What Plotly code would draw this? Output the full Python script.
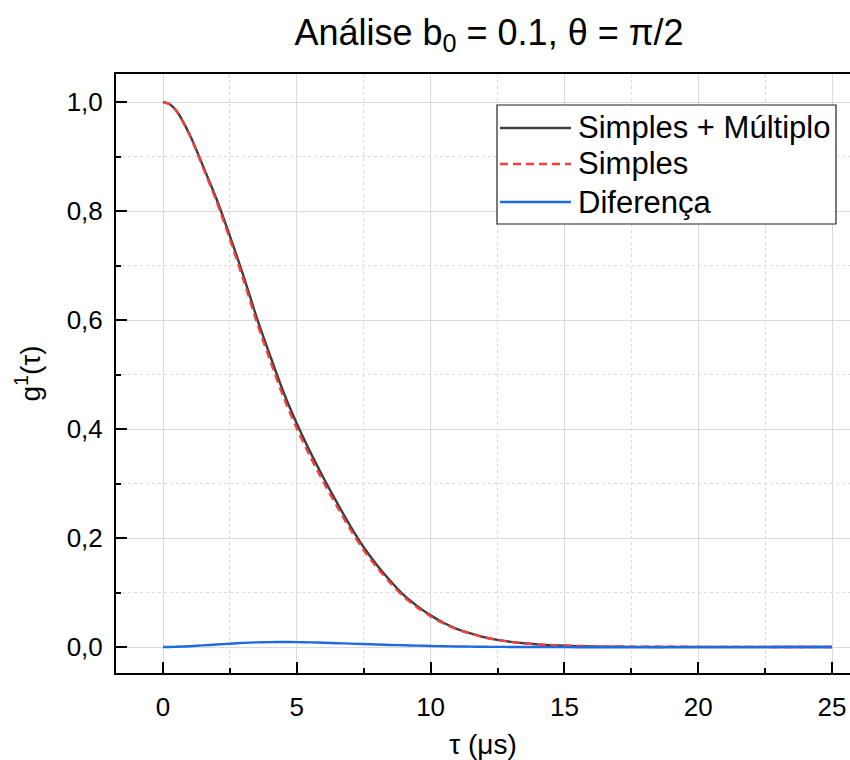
import plotly.graph_objects as go

# ---- data ----
tau = [0, 0.25, 0.5, 1.0, 1.5, 2.0, 2.5, 3.0, 3.5, 4.0, 4.5, 5.0, 5.5, 6.0, 6.5, 7.0, 7.5,
       8.0, 8.5, 9.0, 9.5, 10.0, 10.5, 11.0, 11.5, 12.0, 12.5, 13.0, 13.5, 14.0, 14.5,
       15.0, 16.0, 17.0, 18.0, 19.0, 20.0, 21.0, 22.0, 23.0, 24.0, 25.0]

simples_multiplo = [1.000, 0.996, 0.984, 0.940, 0.882, 0.822, 0.754, 0.682, 0.605, 0.535, 0.468,
                    0.410, 0.358, 0.310, 0.265, 0.222, 0.183, 0.150, 0.121, 0.095, 0.075,
                    0.058, 0.044, 0.033, 0.025, 0.018, 0.013, 0.0095, 0.0068, 0.0048, 0.0034,
                    0.0024, 0.0011, 0.0005, 0.0002, 0.0001, 0.0, 0.0, 0.0, 0.0, 0.0, 0.0]

simples = [1.000, 0.996, 0.9835, 0.9385, 0.879, 0.8175, 0.748, 0.6745, 0.5965, 0.526, 0.4588,
           0.401, 0.3495, 0.3022, 0.258, 0.2158, 0.1776, 0.1455, 0.1172, 0.0919, 0.0725,
           0.0561, 0.0426, 0.032, 0.0243, 0.0176, 0.0128, 0.0094, 0.0068, 0.0049, 0.0036,
           0.0027, 0.0015, 0.0009, 0.0006, 0.0004, 0.0003, 0.0002, 0.0002, 0.0001, 0.0001, 0.0001]

diferenca = [0.0, 0.0001, 0.0005, 0.0015, 0.003, 0.0045, 0.006, 0.0075, 0.0085, 0.009, 0.0092,
             0.009, 0.0085, 0.0078, 0.007, 0.0062, 0.0054, 0.0045, 0.0038, 0.0031, 0.0025,
             0.0019, 0.0014, 0.001, 0.0007, 0.0004, 0.0002, 0.0001, 0.0, -0.0001, -0.0002,
             -0.0003, -0.0004, -0.0004, -0.0004, -0.0003, -0.0003, -0.0002, -0.0002, -0.0001,
             -0.0001, -0.0001]

series_names = ["Simples + Múltiplo", "Simples", "Diferença"]
x_ticks = [0, 5, 10, 15, 20, 25]
y_ticks = [0.0, 0.2, 0.4, 0.6, 0.8, 1.0]

FONT = "Liberation Sans, Arial, sans-serif"
C_BLACK = "#3d3d3d"
C_RED = "#f43f3f"
C_BLUE = "#1f6ae0"
DASH = "8px,5px"

fig = go.Figure()
fig.add_trace(go.Scatter(x=tau, y=simples_multiplo, mode="lines", name=series_names[0],
                         line=dict(color=C_BLACK, width=2.4, shape="spline", smoothing=0.8), showlegend=False))
fig.add_trace(go.Scatter(x=tau, y=simples, mode="lines", name=series_names[1],
                         line=dict(color=C_RED, width=2.4, dash=DASH, shape="spline", smoothing=0.8), showlegend=False))
fig.add_trace(go.Scatter(x=tau, y=diferenca, mode="lines", name=series_names[2],
                         line=dict(color=C_BLUE, width=2.4, shape="spline", smoothing=0.8), showlegend=False))

# plot area geometry (pixels)
L, R, T, B = 116, 850, 74, 673
W, H = 850, 760
pw, ph = R - L, B - T

def px(xp):
    return (xp - L) / pw

def py(yp):
    return (B - yp) / ph

# manual legend (box + samples + labels)
fig.add_shape(type="rect", xref="paper", yref="paper", x0=px(497), x1=px(836), y0=py(224), y1=py(105),
              line=dict(color="#222222", width=1.2), fillcolor="white", layer="above")
entry_y = [128, 164, 202]
styles = [dict(color=C_BLACK, width=2.4), dict(color=C_RED, width=2.4, dash=DASH), dict(color=C_BLUE, width=2.4)]
for name, ey, st in zip(series_names, entry_y, styles):
    fig.add_shape(type="line", xref="paper", yref="paper", x0=px(500), x1=px(571), y0=py(ey), y1=py(ey),
                  line=st, layer="above")
    fig.add_annotation(xref="paper", yref="paper", x=px(576), y=py(ey), text=name, showarrow=False,
                       xanchor="left", yanchor="middle", font=dict(family=FONT, size=31, color="black"))

axis_common = dict(
    showline=True, linecolor="black", linewidth=2,
    ticks="inside", ticklen=11, tickwidth=2, tickcolor="black",
    showgrid=True, gridcolor="#dadada", gridwidth=1,
    zeroline=False, automargin=False,
    tickfont=dict(family=FONT, size=26, color="black"),
)

fig.update_layout(
    width=W, height=H,
    margin=dict(l=L, r=W - R, t=T, b=H - B),
    plot_bgcolor="white", paper_bgcolor="white",
    separators=",.",
    title=dict(text="Análise b<sub>0</sub> = 0.1, θ = π/2", x=489 / W, xanchor="center",
               y=1 - 32 / H, yanchor="middle", automargin=False,
               font=dict(family=FONT, size=36, color="black")),
    xaxis=dict(range=[(L - 163) / 26.76, (R - 163) / 26.76], tickvals=x_ticks, mirror=True,
               ticklabelstandoff=10,
               minor=dict(dtick=2.5, ticks="inside", ticklen=5, tickwidth=2, tickcolor="black",
                          showgrid=True, gridcolor="#dcdcdc", griddash="3px,3px", gridwidth=1),
               title=dict(text="τ (μs)", font=dict(family=FONT, size=28, color="black"), standoff=18),
               **axis_common),
    yaxis=dict(range=[-26 / 545, 1 + 28 / 545], tickvals=y_ticks, tickformat=".1f", mirror=False,
               ticklabelstandoff=6,
               minor=dict(dtick=0.1, ticks="inside", ticklen=5, tickwidth=2, tickcolor="black",
                          showgrid=True, gridcolor="#dcdcdc", griddash="3px,3px", gridwidth=1),
               title=dict(text="g<sup>1</sup>(τ)", font=dict(family=FONT, size=28, color="black"), standoff=18),
               **axis_common),
)

fig.write_html("out.html", config={"displayModeBar": False},
               post_script="document.body.style.margin='0';document.body.style.overflow='hidden';")
